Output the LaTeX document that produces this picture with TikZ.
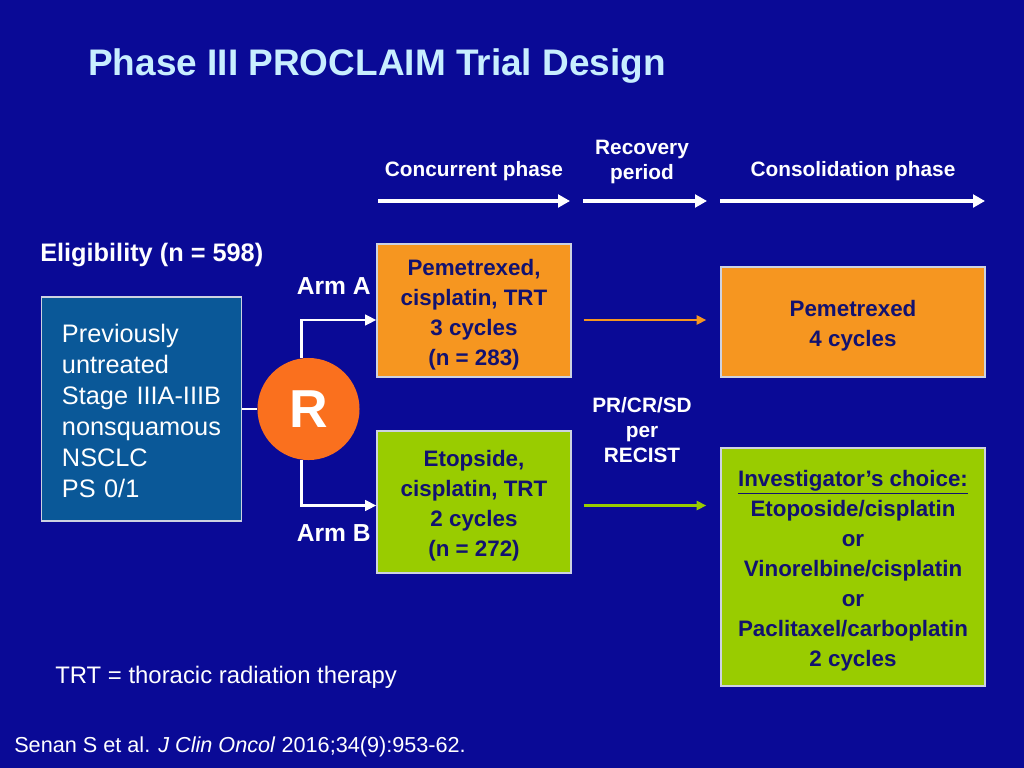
\documentclass[tikz,border=0pt]{standalone}
\usepackage{fontspec}
\setmainfont{Liberation Sans}
\usetikzlibrary{calc,arrows.meta}

\definecolor{slidebg}{RGB}{10,10,150}
\definecolor{titlecyan}{RGB}{200,238,255}
\definecolor{eligblue}{RGB}{10,88,152}
\definecolor{armorange}{RGB}{246,150,32}
\definecolor{armgreen}{RGB}{153,204,0}
\definecolor{randorange}{RGB}{250,112,30}
\definecolor{boxnavy}{RGB}{18,18,112}
\definecolor{boxline}{RGB}{205,210,225}

\newcommand\boxlift{\rule{0pt}{17.3pt}}

\tikzset{
  armbox/.style={draw=boxline, line width=0.9pt, text=boxnavy, align=center,
    font=\bfseries\fontsize{15.9}{21.3}\selectfont, inner sep=0pt},
  phaselabel/.style={text=white, align=center, font=\bfseries\fontsize{14.8}{17.8}\selectfont},
  phasearrow/.style={white, line width=2.8pt, -{Triangle[length=8.5pt,width=9pt]}},
  armarrow/.style={white, line width=1.7pt, -{Triangle[length=8pt,width=7.5pt]}},
  steparrow/.style={line width=1.7pt, -{Triangle[length=7pt,width=6.5pt]}}
}

\begin{document}
\begin{tikzpicture}[x=0.025cm, y=-0.025cm]
    \fill[slidebg] (0,0) rectangle (1024,768);
    \useasboundingbox (0,0) rectangle (1024,768);

    % title
    \node (title) at (88,66) [anchor=west, text=titlecyan, font=\bfseries\fontsize{26.3}{30}\selectfont, inner sep=0pt] {Phase III PROCLAIM Trial Design};

    % phase labels and timeline
    \node (conc) at (474,171) [phaselabel] {Concurrent phase};
    \node (recov) at (642,162) [phaselabel] {Recovery\\period};
    \node (consol) at (853,171) [phaselabel] {Consolidation phase};

    \coordinate (t1) at (378,201);
    \coordinate (t2) at (570,201);
    \coordinate (t3) at (583,201);
    \coordinate (t4) at (707,201);
    \coordinate (t5) at (720,201);
    \coordinate (t6) at (985,201);
    \draw[phasearrow] (t1) -- (t2);
    \draw[phasearrow] (t3) -- (t4);
    \draw[phasearrow] (t5) -- (t6);

    % eligibility
    \node (elig) at (40,255) [anchor=west, text=white, font=\bfseries\fontsize{18}{22}\selectfont, inner sep=0pt] {Eligibility (n = 598)};
    \node (lbox) at (141.5,409) [draw=boxline, line width=0.9pt, fill=eligblue, text=white, minimum width=4.975cm, minimum height=5.6cm, text width=3.975cm, inner xsep=0.52cm, inner ysep=0pt, align=left, font=\fontsize{18}{22}\selectfont] {\rule{0pt}{16pt}Previously\\untreated\\Stage IIIA-IIIB\\nonsquamous\\NSCLC\\PS 0/1};

    % randomisation
    \node (R) at (308.5,409) [circle, fill=randorange, minimum size=2.55cm, inner sep=0pt, text=white, font=\bfseries\fontsize{38}{40}\selectfont] {R};
    \draw[white, line width=1.7pt] (lbox) -- (R);

    \node (armA) at (371,286) [anchor=east, text=white, font=\bfseries\fontsize{17.5}{20}\selectfont, inner sep=0pt] {Arm A};
    \node (armB) at (371,533) [anchor=east, text=white, font=\bfseries\fontsize{17.5}{20}\selectfont, inner sep=0pt] {Arm B};

    % concurrent phase boxes
    \node (pemA) at (474,310.5) [armbox, fill=armorange, minimum width=4.85cm, minimum height=3.325cm] {\boxlift Pemetrexed,\\cisplatin, TRT\\3 cycles\\(n = 283)};
    \node (etoA) at (474,502) [armbox, fill=armgreen, minimum width=4.85cm, minimum height=3.55cm] {\boxlift Etopside,\\cisplatin, TRT\\2 cycles\\(n = 272)};

    \draw[armarrow] (R.98) |- ($(pemA.west)+(0,9.5)$);
    \draw[armarrow] (R.262) |- ($(etoA.west)+(0,3.5)$);

    % consolidation phase boxes
    \node (pemB) at (853,322) [armbox, fill=armorange, minimum width=6.6cm, minimum height=2.75cm] {\boxlift Pemetrexed\\4 cycles};
    \node (etoB) at (853,567) [armbox, fill=armgreen, minimum width=6.6cm, minimum height=5.95cm] {\boxlift\underline{Investigator’s choice:}\\Etoposide/cisplatin\\or\\Vinorelbine/cisplatin\\or\\Paclitaxel/carboplatin\\2 cycles};

    \node (resp) at (642,430) [text=white, align=center, font=\bfseries\fontsize{14.8}{18}\selectfont] {PR/CR/SD\\per\\RECIST};

    \draw[steparrow, armorange] ($(pemA.east)+(12,9.5)$) -- ($(pemB.west |- pemA.east)+(-14,9.5)$);
    \draw[steparrow, armgreen] ($(etoA.east)+(12,3.5)$) -- ($(etoB.west |- etoA.east)+(-14,3.5)$);

    % footnotes
    \node (trt) at (55,677) [anchor=west, text=white, font=\fontsize{17}{20}\selectfont, inner sep=0pt] {TRT = thoracic radiation therapy};
    \node (cite) at (14,747) [anchor=west, text=white, font=\fontsize{15.4}{18}\selectfont, inner sep=0pt] {Senan S et al. \textit{J Clin Oncol} 2016;34(9):953-62.};
\end{tikzpicture}
\end{document}
